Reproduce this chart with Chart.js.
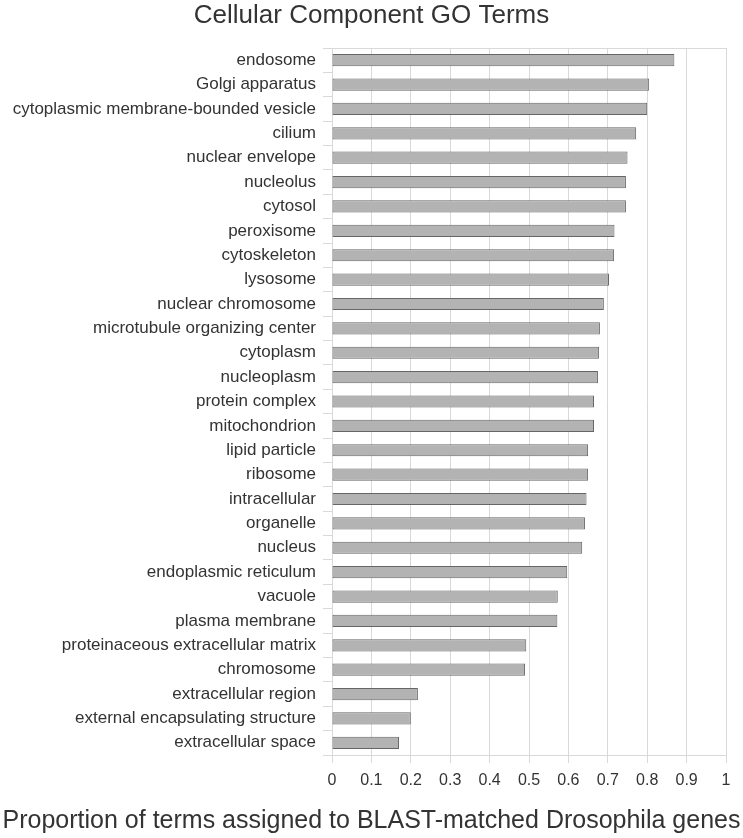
<!DOCTYPE html>
<html>
<head>
<meta charset="utf-8">
<script src="https://cdn.jsdelivr.net/npm/chart.js@4/dist/chart.umd.min.js"></script>
<style>
  body { margin: 0; background: #fff; }
  canvas { display: block; }
</style>
</head>
<body>
<canvas id="goChart" width="743" height="838"></canvas>
<script>
// GO term categories, top to bottom
const terms = [
    "endosome", "Golgi apparatus", "cytoplasmic membrane-bounded vesicle", "cilium",
    "nuclear envelope", "nucleolus", "cytosol", "peroxisome", "cytoskeleton", "lysosome",
    "nuclear chromosome", "microtubule organizing center", "cytoplasm", "nucleoplasm",
    "protein complex", "mitochondrion", "lipid particle", "ribosome", "intracellular",
    "organelle", "nucleus", "endoplasmic reticulum", "vacuole", "plasma membrane",
    "proteinaceous extracellular matrix", "chromosome", "extracellular region",
    "external encapsulating structure", "extracellular space"
];

// proportion of terms assigned to BLAST-matched genes
const proportions = [
    0.869, 0.805, 0.800, 0.772,
    0.750, 0.746, 0.746, 0.717, 0.716, 0.703,
    0.690, 0.680, 0.678, 0.675,
    0.665, 0.665, 0.650, 0.650, 0.646,
    0.642, 0.635, 0.597, 0.573, 0.572,
    0.493, 0.490, 0.218,
    0.200, 0.170
];

const xTickLabels = ["0", "0.1", "0.2", "0.3", "0.4", "0.5", "0.6", "0.7", "0.8", "0.9", "1"];

const gridColor = "#d9d9d9";
const textColor = "#333333";
const fontFamily = "'Liberation Sans', Arial, sans-serif";

// thin line along the top of the plot area
const topBorder = {
    id: "topBorder",
    afterDraw(chart) {
        const {ctx, chartArea} = chart;
        ctx.save();
        ctx.strokeStyle = gridColor;
        ctx.lineWidth = 1;
        ctx.beginPath();
        ctx.moveTo(chartArea.left, Math.round(chartArea.top) + 0.5);
        ctx.lineTo(chartArea.right, Math.round(chartArea.top) + 0.5);
        ctx.stroke();
        ctx.restore();
    }
};

new Chart("goChart", {
    type: "bar",
    data: {
        labels: terms,
        datasets: [{
            data: proportions,
            backgroundColor: "#b3b3b3",
            borderColor: "#666666",
            borderWidth: 1,
            borderSkipped: false,
            barPercentage: 0.5,
            categoryPercentage: 1
        }]
    },
    options: {
        indexAxis: "y",
        responsive: false,
        animation: false,
        layout: { padding: 0 },
        plugins: {
            legend: { display: false },
            tooltip: { enabled: false },
            title: {
                display: true,
                text: "Cellular Component GO Terms",
                color: textColor,
                font: { family: fontFamily, size: 26, weight: "normal" },
                padding: { top: 0, bottom: 16.8 }
            },
            // x axis caption, centred on the whole canvas like the original
            subtitle: {
                display: true,
                position: "bottom",
                text: "Proportion of terms assigned to BLAST-matched Drosophila genes",
                color: textColor,
                font: { family: fontFamily, size: 25, weight: "normal" },
                padding: { top: 0, bottom: 2 }
            }
        },
        scales: {
            x: {
                min: 0,
                max: 1,
                afterFit: (scale) => {
                    scale.height = 51;
                    scale.paddingRight = 17;
                },
                ticks: {
                    stepSize: 0.1,
                    color: textColor,
                    padding: 8,
                    font: { family: fontFamily, size: 16 },
                    callback: (value, index) => xTickLabels[index]
                },
                grid: { color: gridColor, tickLength: 8 },
                border: { color: gridColor }
            },
            y: {
                afterFit: (scale) => { scale.width = 332; },
                ticks: {
                    color: textColor,
                    padding: 7,
                    autoSkip: false,
                    font: { family: fontFamily, size: 17 }
                },
                grid: { color: gridColor, drawOnChartArea: false, tickLength: 9, offset: true },
                border: { color: gridColor }
            }
        }
    },
    plugins: [topBorder]
});
</script>
</body>
</html>
